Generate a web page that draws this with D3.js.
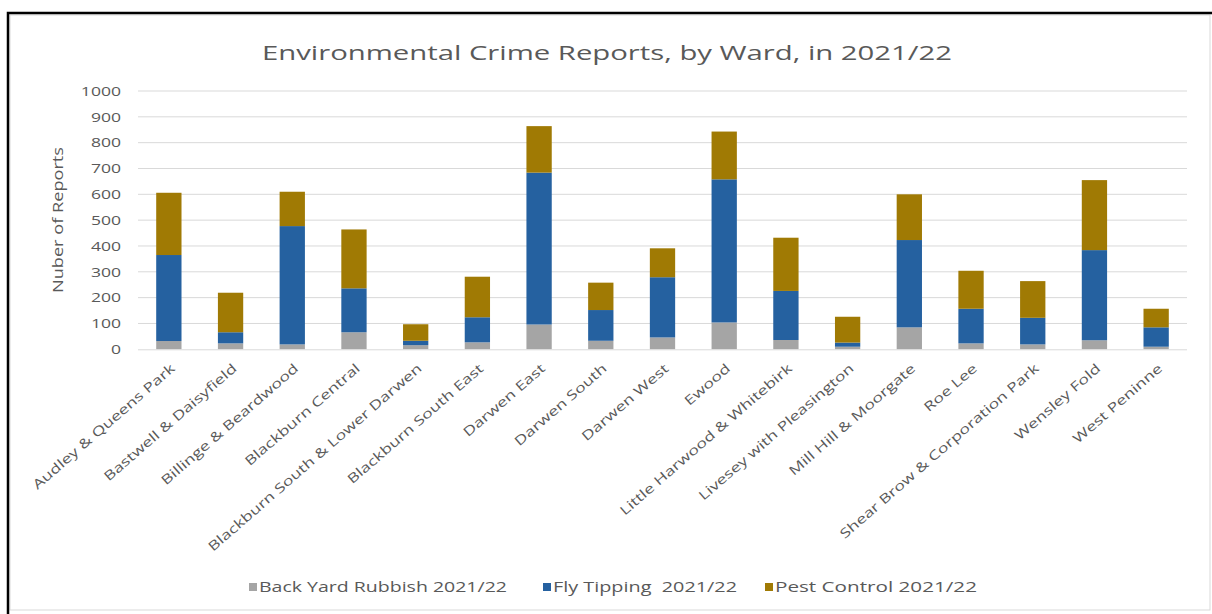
<!DOCTYPE html>
<html><head><meta charset="utf-8">
<script src="https://cdn.jsdelivr.net/npm/d3@7"></script>
<style>html,body{margin:0;padding:0;background:#fff;}svg{display:block;}text{font-family:"Open Sans",sans-serif;fill:#595959;white-space:pre;}</style>
</head><body>
<script>
const categories = ["Audley & Queens Park","Bastwell & Daisyfield","Billinge & Beardwood","Blackburn Central","Blackburn South & Lower Darwen","Blackburn South East","Darwen East","Darwen South","Darwen West","Ewood","Little Harwood & Whitebirk","Livesey with Pleasington","Mill Hill & Moorgate","Roe Lee","Shear Brow & Corporation Park","Wensley Fold","West Peninne"];
const backYardRubbish = [32,23,19,66,16,27,96,33,46,104,36,10,85,23,19,35,10];
const flyTipping = [333,43,458,170,17,97,588,119,233,554,190,16,338,134,103,349,75];
const pestControl = [241,153,133,228,64,157,180,106,112,185,206,100,177,147,142,271,72];
const seriesNames = ["Back Yard Rubbish 2021/22","Fly Tipping  2021/22","Pest Control 2021/22"];
const seriesColors = ["#a5a5a5","#2561a0","#a07a04"];
const yTicks = [0,100,200,300,400,500,600,700,800,900,1000];
const title = "Environmental Crime Reports, by Ward, in 2021/22";
const yTitle = "Nuber of Reports";

const W = 1212, H = 614;
const svg = d3.select("body").append("svg").attr("width", W).attr("height", H);

// frame
svg.append("rect").attr("x",10).attr("y",15).attr("width",1200).attr("height",595)
  .attr("fill","#fff").attr("stroke","#d9d9d9").attr("stroke-width",1);
svg.append("path").attr("d","M8,614 L8,13 L1212,13").attr("fill","none").attr("stroke","#000").attr("stroke-width",2.5);

const m = {left:138, right:1187, top:91, bottom:349.3};
const x = d3.scaleBand().domain(categories).range([m.left, m.right]).paddingInner(0.59).paddingOuter(0.295);
const y = d3.scaleLinear().domain([0,1000]).range([m.bottom, m.top]);

function stretch(sel, k){
  sel.each(function(){
    const t = d3.select(this);
    const n = this.getComputedTextLength();
    t.attr("textLength", n*k).attr("lengthAdjust","spacingAndGlyphs");
  });
}

// gridlines
svg.append("g").selectAll("line").data(yTicks.slice(1)).join("line")
  .attr("x1",m.left).attr("x2",m.right).attr("y1",d=>y(d)).attr("y2",d=>y(d))
  .attr("stroke","#d9d9d9").attr("stroke-width",1);

// y axis labels
const yAxis = d3.axisLeft(y).tickValues(yTicks).tickFormat(d3.format("d")).tickSize(0).tickPadding(17);
const yg = svg.append("g").attr("transform",`translate(${m.left},0)`).call(yAxis);
yg.select(".domain").remove();
yg.selectAll("text").style("font-family","'Open Sans',sans-serif").style("font-size","13.5px").attr("fill","#595959");
stretch(yg.selectAll("text"), 1.3);

// stacked data
const rows = categories.map((c,i)=>({cat:c, s0:backYardRubbish[i], s1:flyTipping[i], s2:pestControl[i]}));
const stack = d3.stack().keys(["s0","s1","s2"])(rows);
svg.append("g").selectAll("g").data(stack).join("g").attr("fill",(d,i)=>seriesColors[i])
  .selectAll("rect").data(d=>d).join("rect")
  .attr("x",d=>x(d.data.cat)).attr("width",x.bandwidth())
  .attr("y",d=>y(d[1])).attr("height",d=>y(d[0])-y(d[1]));

// axis baseline
svg.append("line").attr("x1",m.left).attr("x2",m.right).attr("y1",m.bottom+0.5).attr("y2",m.bottom+0.5)
  .attr("stroke","#d9d9d9").attr("stroke-width",1);

// x labels
const xl = svg.append("g").selectAll("text").data(categories).join("text")
  .attr("transform",d=>`translate(${x(d)+x.bandwidth()/2+4},${m.bottom+17}) rotate(-41)`)
  .attr("text-anchor","end").attr("dy","0.35em")
  .style("font-size","13px").text(d=>d);
stretch(xl, 1.36);

// title
const tt = svg.append("text").attr("x",607).attr("y",60).attr("text-anchor","middle")
  .style("font-size","20px").text(title);
tt.attr("textLength",690).attr("lengthAdjust","spacingAndGlyphs");

// y title
const yt = svg.append("text").attr("transform","translate(63,220) rotate(-90)").attr("text-anchor","middle")
  .style("font-size","15px").text(yTitle)
  .attr("textLength",146).attr("lengthAdjust","spacingAndGlyphs");

// legend
const legX = [249, 543, 765];
const legW = [248, 184, 202];
const lg = svg.append("g").selectAll("g").data(seriesNames).join("g")
  .attr("transform",(d,i)=>`translate(${legX[i]},587)`);
lg.append("rect").attr("x",0).attr("y",-4).attr("width",8).attr("height",8).attr("fill",(d,i)=>seriesColors[i]);
lg.append("text").attr("x",10).attr("dy","0.35em").style("font-size","14px").text(d=>d)
  .attr("textLength",(d,i)=>legW[i]).attr("lengthAdjust","spacingAndGlyphs");
</script>
</body></html>
